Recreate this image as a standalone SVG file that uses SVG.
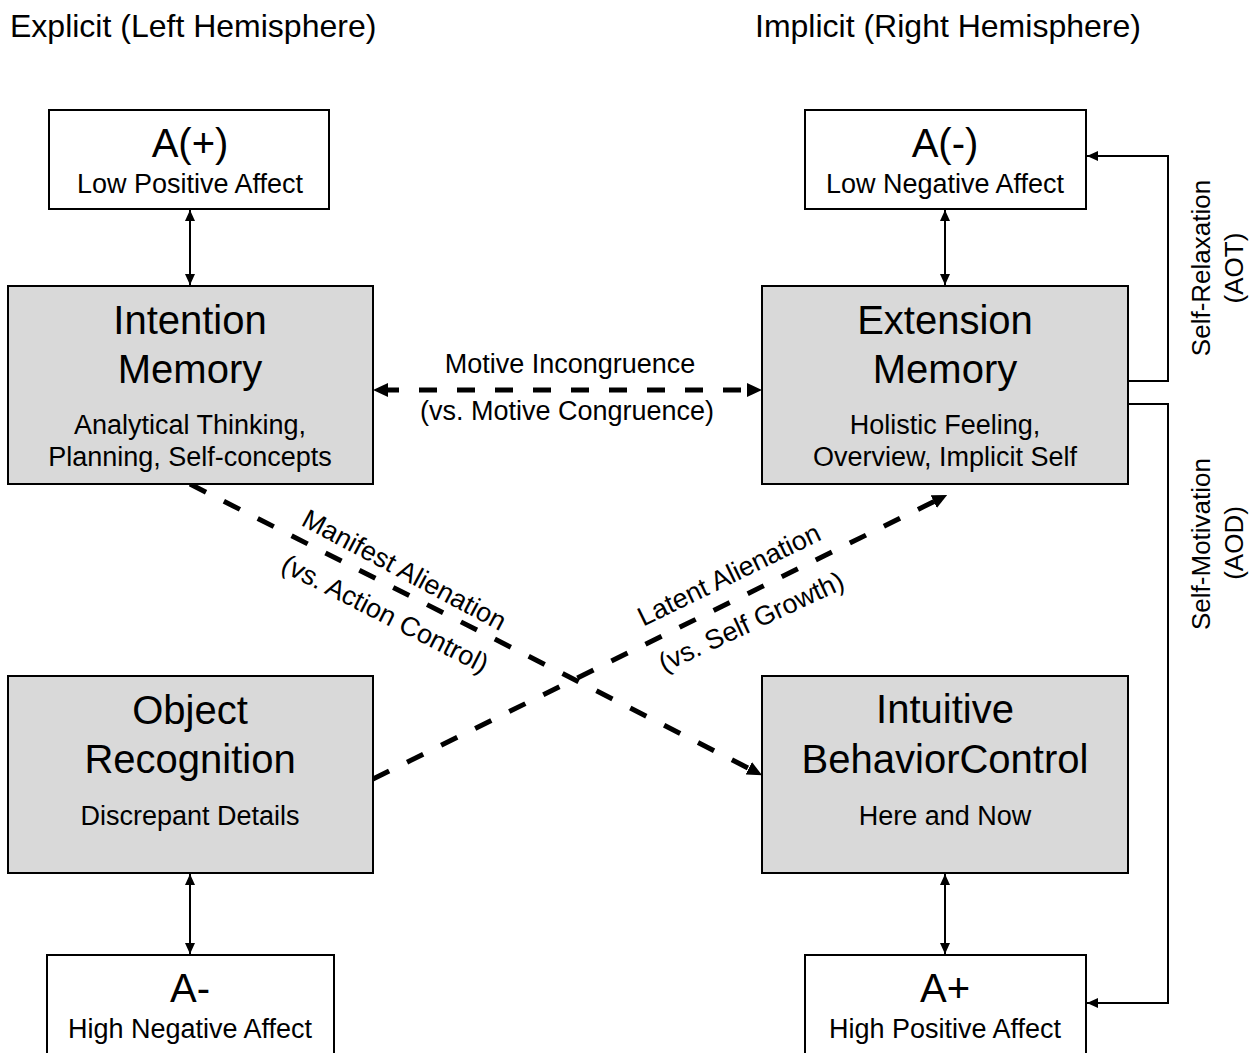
<svg xmlns="http://www.w3.org/2000/svg" width="1260" height="1053" viewBox="0 0 1260 1053">
<defs>
<style>
text{font-family:"Liberation Sans",Arial,sans-serif;fill:#000;}
.hdr{font-size:32px;}
.ttl{font-size:40px;text-anchor:middle;}
.alab{font-size:40px;text-anchor:middle;}
.sub{font-size:27px;text-anchor:middle;}
.lbl{font-size:27px;text-anchor:middle;}
.rot{font-size:26px;text-anchor:middle;}
.box{fill:#fff;stroke:#000;stroke-width:2;}
.gbox{fill:#d9d9d9;stroke:#000;stroke-width:2;}
.thin{fill:none;stroke:#000;stroke-width:2;}
.dash{fill:none;stroke:#000;stroke-width:5;stroke-dasharray:18 20;}
</style>
<marker id="ah" viewBox="0 0 11 10" refX="11" refY="5" markerWidth="11" markerHeight="10" markerUnits="userSpaceOnUse" orient="auto-start-reverse">
<path d="M0,0 L11,5 L0,10 z" fill="#000"/>
</marker>
<marker id="ahb" viewBox="0 0 15 14" refX="7" refY="7" markerWidth="15" markerHeight="14" markerUnits="userSpaceOnUse" orient="auto-start-reverse">
<path d="M0,0 L15,7 L0,14 z" fill="#000"/>
</marker>
</defs>

<text class="hdr" x="10" y="37">Explicit (Left Hemisphere)</text>
<text class="hdr" x="755" y="37">Implicit (Right Hemisphere)</text>

<g id="connectors">
<line class="thin" x1="190" y1="210" x2="190" y2="285" marker-start="url(#ah)" marker-end="url(#ah)"/>
<line class="thin" x1="945" y1="210" x2="945" y2="285" marker-start="url(#ah)" marker-end="url(#ah)"/>
<line class="thin" x1="190" y1="874" x2="190" y2="954" marker-start="url(#ah)" marker-end="url(#ah)"/>
<line class="thin" x1="945" y1="874" x2="945" y2="954" marker-start="url(#ah)" marker-end="url(#ah)"/>
<polyline class="thin" points="1128,381 1168,381 1168,156 1087,156" marker-end="url(#ah)"/>
<polyline class="thin" points="1128,404 1168,404 1168,1003 1087,1003" marker-end="url(#ah)"/>
<line class="dash" x1="381" y1="390" x2="754" y2="390" marker-start="url(#ahb)" marker-end="url(#ahb)"/>
<line class="dash" x1="190" y1="484" x2="755" y2="771.5" marker-end="url(#ahb)"/>
<line class="dash" x1="373" y1="779" x2="940" y2="498.5" marker-end="url(#ahb)"/>
<text class="lbl" x="570" y="373">Motive Incongruence</text>
<text class="lbl" x="567" y="420">(vs. Motive Congruence)</text>
<text class="lbl" transform="rotate(28 400 578)" x="400" y="578">Manifest Alienation</text>
<text class="lbl" transform="rotate(27 381 622)" x="381" y="622">(vs. Action Control)</text>
<text class="lbl" transform="rotate(-26 733 583)" x="733" y="583">Latent Alienation</text>
<text class="lbl" transform="rotate(-25 755 630)" x="755" y="630">(vs. Self Growth)</text>
<text class="rot" transform="rotate(-90 1210 268)" x="1210" y="268">Self-Relaxation</text>
<text class="rot" transform="rotate(-90 1243 268)" x="1243" y="268">(AOT)</text>
<text class="rot" transform="rotate(-90 1210 544)" x="1210" y="544">Self-Motivation</text>
<text class="rot" transform="rotate(-90 1243 543)" x="1243" y="543">(AOD)</text>
</g>

<g id="a-plus-low">
<rect class="box" x="49" y="110" width="280" height="99"/>
<text class="alab" x="190" y="157">A(+)</text>
<text class="sub" x="190" y="193">Low Positive Affect</text>
</g>

<g id="a-minus-low">
<rect class="box" x="805" y="110" width="281" height="99"/>
<text class="alab" x="945" y="157">A(-)</text>
<text class="sub" x="945" y="193">Low Negative Affect</text>
</g>

<g id="intention-memory">
<rect class="gbox" x="8" y="286" width="365" height="198"/>
<text class="ttl" x="190" y="334">Intention</text>
<text class="ttl" x="190" y="383">Memory</text>
<text class="sub" x="190" y="434">Analytical Thinking,</text>
<text class="sub" x="190" y="466">Planning, Self-concepts</text>
</g>

<g id="extension-memory">
<rect class="gbox" x="762" y="286" width="366" height="198"/>
<text class="ttl" x="945" y="334">Extension</text>
<text class="ttl" x="945" y="383">Memory</text>
<text class="sub" x="945" y="434">Holistic Feeling,</text>
<text class="sub" x="945" y="466">Overview, Implicit Self</text>
</g>

<g id="object-recognition">
<rect class="gbox" x="8" y="676" width="365" height="197"/>
<text class="ttl" x="190" y="724">Object</text>
<text class="ttl" x="190" y="773">Recognition</text>
<text class="sub" x="190" y="825">Discrepant Details</text>
</g>

<g id="intuitive-behavior-control">
<rect class="gbox" x="762" y="676" width="366" height="197"/>
<text class="ttl" x="945" y="723">Intuitive</text>
<text class="ttl" x="945" y="773">BehaviorControl</text>
<text class="sub" x="945" y="825">Here and Now</text>
</g>

<g id="a-minus-high">
<rect class="box" x="47" y="955" width="287" height="110"/>
<text class="alab" x="190" y="1002">A-</text>
<text class="sub" x="190" y="1038">High Negative Affect</text>
</g>

<g id="a-plus-high">
<rect class="box" x="805" y="955" width="281" height="110"/>
<text class="alab" x="945" y="1002">A+</text>
<text class="sub" x="945" y="1038">High Positive Affect</text>
</g>
</svg>
